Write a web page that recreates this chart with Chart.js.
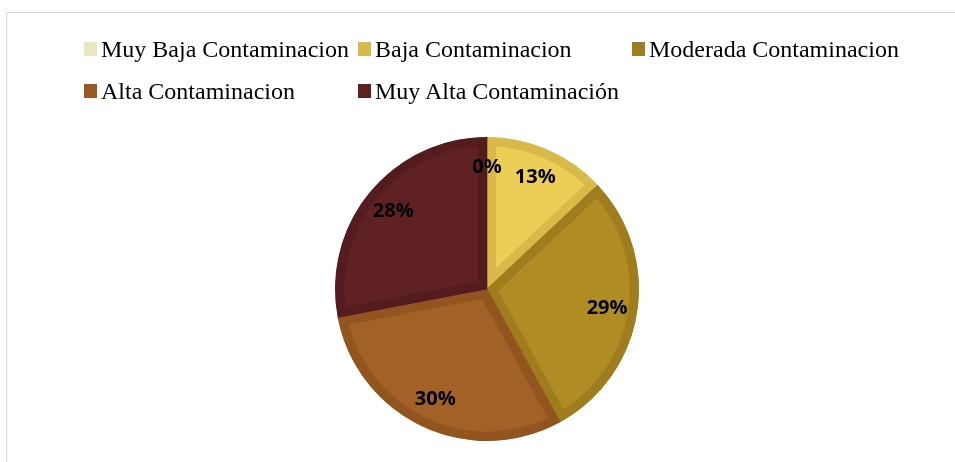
<!DOCTYPE html>
<html>
<head>
<meta charset="utf-8">
<script src="https://cdn.jsdelivr.net/npm/chart.js@4"></script>
<style>
  html, body { margin: 0; padding: 0; background: #fff; }
  body { width: 955px; height: 462px; position: relative; overflow: hidden; }
  #frame {
    position: absolute; left: 6px; top: 12px; width: 1000px; height: 500px;
    border: 1.5px solid #d9d9d9; box-sizing: border-box;
  }
  #legend {
    position: absolute; left: 84px; top: 34px;
    display: grid; grid-template-columns: 274px 274px 300px; row-gap: 12px;
    font-family: "Liberation Serif", "Times New Roman", serif; font-size: 24px; color: #000;
  }
  .item { display: flex; align-items: center; white-space: nowrap; height: 30px; }
  .box { width: 13px; height: 14px; margin-right: 4px; flex: none; }
  #wrap { position: absolute; left: 0; top: 0; width: 955px; height: 462px; }
</style>
</head>
<body>
<div id="frame"></div>
<div id="wrap"><canvas id="pie"></canvas></div>
<div id="legend"></div>
<script>
let categories = ["Muy Baja Contaminacion", "Baja Contaminacion", "Moderada Contaminacion", "Alta Contaminacion", "Muy Alta Contaminación"];
let values = [0, 13, 29, 30, 28];
let fillColors = ["#e9e7bd", "#eccd56", "#b08c25", "#a36127", "#5f2124"];
let edgeColors = ["#dedbab", "#d9b94a", "#9f7d1f", "#93551f", "#541c1e"];
let legendColors = ["#e9e7bd", "#d9b94a", "#a07d20", "#9b5822", "#5e2121"];

// legend in three fixed columns
let legend = document.getElementById("legend");
categories.forEach(function(name, i) {
  let item = document.createElement("div");
  item.className = "item";
  item.innerHTML = '<span class="box" style="background:' + legendColors[i] + '"></span>' + name;
  legend.appendChild(item);
});

// percentage text inside each slice
const sliceLabels = {
  id: "sliceLabels",
  afterDatasetsDraw(chart) {
    let ctx = chart.ctx;
    let meta = chart.getDatasetMeta(0);
    ctx.save();
    ctx.font = "bold 20px 'Open Sans', 'Liberation Sans', sans-serif";
    ctx.fillStyle = "#000";
    ctx.textAlign = "center";
    ctx.textBaseline = "middle";
    meta.data.forEach(function(arc, i) {
      let p = arc.getProps(["x", "y", "startAngle", "endAngle", "outerRadius"], true);
      let mid = (p.startAngle + p.endAngle) / 2;
      let r = p.outerRadius * 0.8;
      ctx.fillText(values[i] + "%", p.x + Math.cos(mid) * r, p.y + Math.sin(mid) * r);
    });
    ctx.restore();
  }
};

new Chart(document.getElementById("pie"), {
  type: "pie",
  data: {
    labels: categories,
    datasets: [{
      data: values,
      backgroundColor: fillColors,
      borderColor: edgeColors,
      borderWidth: 9,
      borderAlign: "inner"
    }]
  },
  options: {
    responsive: true,
    maintainAspectRatio: false,
    animation: false,
    layout: { padding: { top: 137, bottom: 21, left: 19, right: 0 } },
    plugins: {
      legend: { display: false },
      tooltip: { enabled: false }
    }
  },
  plugins: [sliceLabels]
});
</script>
</body>
</html>
